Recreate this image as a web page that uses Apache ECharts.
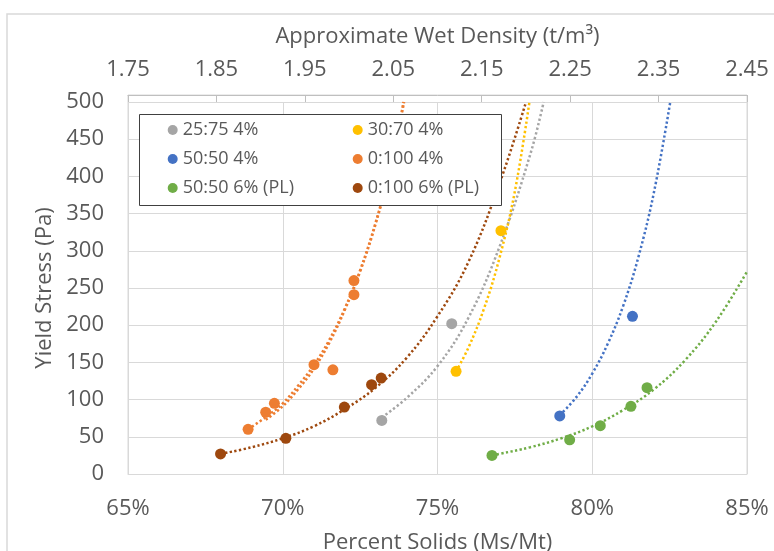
<!doctype html>
<html>
<head>
<meta charset="utf-8">
<title>Yield Stress vs Percent Solids</title>
<script src="https://cdn.jsdelivr.net/npm/echarts@6/dist/echarts.min.js"></script>
<style>html,body{margin:0;background:#fff}#chart{width:774px;height:551px}</style>
</head>
<body>
<div id="chart"></div>
<script>
// ---- data: [percent solids (%), yield stress (Pa)] ----
const seriesNames = ["25:75 4%", "30:70 4%", "50:50 4%", "0:100 4%", "50:50 6% (PL)", "0:100 6% (PL)"];
const seriesColors = ["#A5A5A5", "#FFC000", "#4472C4", "#ED7D31", "#70AD47", "#9E480E"];

const pts2575 = [[73.2, 72], [75.46, 202]];
const pts3070 = [[75.6, 138], [77.05, 327]];
const pts5050 = [[78.95, 78], [81.3, 212]];
const pts0100 = [[68.88, 60], [69.45, 83], [69.73, 95], [71.01, 147], [71.62, 140], [72.3, 241], [72.3, 260]];
const pts5050pl = [[76.76, 25], [79.27, 46], [80.26, 65], [81.25, 91], [81.77, 116]];
const pts0100pl = [[67.99, 27], [70.1, 48], [71.99, 90], [72.87, 120], [73.18, 129]];

// dotted trendlines, points
const trend2575 = [[73.2, 76], [74, 102], [75, 145], [76, 210], [77, 305], [78, 430], [78.43, 500]];
const trend3070 = [[75.6, 138], [76, 170], [76.5, 222], [77, 290], [77.5, 380], [77.97, 500]];
const trend5050 = [[78.95, 79], [79.5, 104], [80, 135], [80.5, 175], [81, 226], [81.5, 293], [82, 380], [82.52, 500]];
const trend0100a = [[68.88, 60], [69.5, 78], [70, 95], [70.5, 119], [71, 146], [71.5, 180], [72, 222], [72.5, 274], [73, 338], [73.5, 416], [73.9, 500]];
const trend0100b = [[69.45, 73], [70, 91], [70.5, 114], [71, 141], [71.5, 176], [72, 220], [72.5, 272], [73, 336], [73.5, 414], [73.92, 500]];
const trend5050pl = [[76.76, 25], [77, 27], [78, 36], [79, 48], [80, 64], [81, 86], [82, 114], [83, 153], [84, 205], [85, 272]];
const trend0100pl = [[67.99, 27], [69, 36], [70, 48], [71, 64], [72, 87], [73, 116], [74, 156], [75, 212], [76, 285], [77, 390], [77.86, 500]];

const densityTicks = ["1.75", "1.85", "1.95", "2.05", "2.15", "2.25", "2.35", "2.45"]; // top axis labels

const pointSets = [pts2575, pts3070, pts5050, pts0100, pts5050pl, pts0100pl];
const trendSets = [[trend2575], [trend3070], [trend5050], [trend0100a, trend0100b], [trend5050pl], [trend0100pl]];

// ---- styles ----
const FONT = "Open Sans";
const TXT = "#595959";
const GRID_LINE = "#d9d9d9";

const chart = echarts.init(document.getElementById("chart"), null, { renderer: "canvas" });

// build series: trendlines first so markers sit on top
const series = [];
seriesNames.forEach((name, i) => {
  trendSets[i].forEach((t, k) => {
    series.push({
      name: name + " trend " + k,
      type: "line",
      data: t,
      showSymbol: false,
      smooth: 0.4,
      clip: true,
      silent: true,
      z: 2,
      lineStyle: { color: seriesColors[i], width: 2.5, type: [2.3, 2.4], cap: "butt" },
    });
  });
  series.push({
    name: name,
    type: "scatter",
    data: pointSets[i],
    symbol: "circle",
    symbolSize: 11,
    z: 3,
    itemStyle: { color: seriesColors[i], opacity: 1 },
  });
});

const option = {
  animation: false,
  backgroundColor: "#fff",
  textStyle: { fontFamily: FONT },
  grid: { left: 128, right: 27, top: 102, bottom: 77, containLabel: false, outerBoundsMode: "none" },
  legend: {
    data: seriesNames.map((n, i) => ({ name: n, itemStyle: { color: seriesColors[i] } })),
    left: 167.7,
    top: 120.5,
    width: 370,
    padding: 0,
    itemGap: 10,
    itemWidth: 10,
    itemHeight: 10,
    icon: "circle",
    z: 10,
    selectedMode: false,
    textStyle: { color: TXT, fontSize: 18, fontFamily: FONT, width: 160, lineHeight: 19 },
  },
  xAxis: [
    {
      type: "value",
      position: "bottom",
      min: 65,
      max: 85,
      interval: 5,
      name: "Percent Solids (Ms/Mt)",
      nameLocation: "middle",
      nameGap: 58,
      nameTextStyle: { color: TXT, fontSize: 22, fontFamily: FONT },
      axisLine: { lineStyle: { color: GRID_LINE, width: 1 } },
      axisTick: { show: false },
      axisLabel: { color: TXT, fontSize: 22, fontFamily: FONT, margin: 24, formatter: (v) => v + "%" },
      splitLine: { show: true, lineStyle: { color: GRID_LINE, width: 1 } },
    },
    {
      type: "value",
      position: "top",
      offset: 7,
      min: 0,
      max: 7,
      interval: 1,
      name: "Approximate Wet Density (t/m³)",
      nameLocation: "middle",
      nameGap: 47,
      nameTextStyle: { color: TXT, fontSize: 22, fontFamily: FONT },
      axisLine: { lineStyle: { color: "#bfbfbf", width: 1 } },
      axisTick: { show: true, inside: true, length: 7, lineStyle: { color: "#bfbfbf" } },
      axisLabel: { color: TXT, fontSize: 22, fontFamily: FONT, margin: 14, formatter: (v) => densityTicks[v] },
      splitLine: { show: false },
    },
  ],
  yAxis: {
    type: "value",
    min: 0,
    max: 500,
    interval: 50,
    name: "Yield Stress (Pa)",
    nameLocation: "middle",
    nameGap: 72,
    nameTextStyle: { color: TXT, fontSize: 22, fontFamily: FONT },
    axisLine: { show: true, lineStyle: { color: GRID_LINE, width: 1 } },
    axisTick: { show: false },
    axisLabel: { color: TXT, fontSize: 22, fontFamily: FONT, margin: 24 },
    splitLine: { show: true, lineStyle: { color: GRID_LINE, width: 1 } },
  },
  graphic: [
    // outer chart-area border (only left/top visible)
    { type: "rect", shape: { x: 7, y: 14, width: 900, height: 700 }, style: { fill: "none", stroke: GRID_LINE, lineWidth: 1.5 }, z: 0, silent: true },
    // plot frame: right edge and the strip above the 500 line
    { type: "polyline", shape: { points: [[128, 474], [128, 95], [747, 95], [747, 474]] }, style: { fill: "none", stroke: GRID_LINE, lineWidth: 1 }, z: 0, silent: true },
    // legend box, opaque so it hides the trendlines under it
    { type: "rect", shape: { x: 139.5, y: 114.5, width: 362, height: 91 }, style: { fill: "#fff", stroke: "#404040", lineWidth: 1 }, z: 5, silent: true },
  ],
  series: series,
};

chart.setOption(option);
</script>
</body>
</html>
